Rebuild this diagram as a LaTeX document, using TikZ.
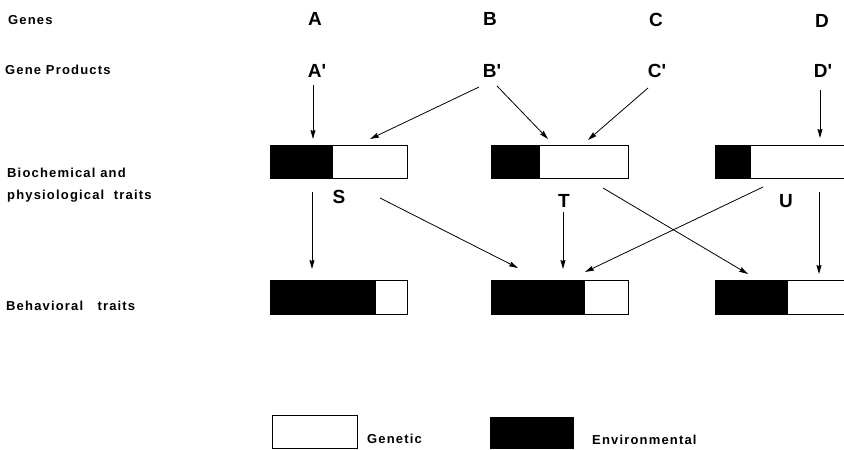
\documentclass[tikz,border=0pt]{standalone}
\usepackage{fontspec}
\setmainfont{Liberation Sans}
\usetikzlibrary{arrows.meta,calc}
\begin{document}
\begin{tikzpicture}[x=1pt,y=-1pt,
  lab/.style={anchor=base west,inner sep=0pt,font=\fontsize{13}{15}\selectfont\bfseries\addfontfeature{LetterSpace=9}},
  big/.style={anchor=base,inner sep=0pt,font=\fontsize{19}{22}\selectfont\bfseries},
  bar/.style={draw,line width=1.3pt,minimum width=137pt,inner sep=0pt,anchor=north west,fill=white},
  blk/.style={path picture={\fill[black] (path picture bounding box.south west) rectangle ([xshift=#1]path picture bounding box.north west);}},
  arr/.style={line width=0.8pt,-{Stealth[length=9pt,width=5pt,inset=1pt]}}]
\useasboundingbox (0,0) rectangle (844,450);

% row labels
\node[lab] (lgenes) at (8,24) {Genes};
\node[lab] (lprod) at (5,74) {Gene Products};
\node[lab] (lbio1) at (7,177) {Biochemical and};
\node[lab] (lbio2) at (7,199) {physiological\ \ traits};
\node[lab] (lbeh) at (6,310) {Behavioral\ \ \ traits};

% genes
\node[big] (A) at (315,25) {A};
\node[big] (B) at (490,25) {B};
\node[big] (C) at (656,26) {C};
\node[big] (D) at (822,27) {D};
\node[big] (Ap) at (317,77) {A\textquotesingle};
\node[big] (Bp) at (492,77) {B\textquotesingle};
\node[big] (Cp) at (657,77) {C\textquotesingle};
\node[big] (Dp) at (823,77) {D\textquotesingle};

% bars row 1
\node[bar,blk=62pt,minimum height=33pt] (s1) at (270,145) {};
\node[bar,blk=48pt,minimum height=33pt] (t1) at (491,145) {};
\node[bar,blk=35pt,minimum height=33pt] (u1) at (715,145) {};
% bars row 2
\node[bar,blk=105pt,minimum height=34pt] (s2) at (270,280) {};
\node[bar,blk=93pt,minimum height=34pt] (t2) at (491,280) {};
\node[bar,blk=72pt,minimum height=34pt] (u2) at (715,280) {};

\node[big] (S) at (339,203) {S};
\node[big] (T) at (564,207) {T};
\node[big] (U) at (786,207) {U};

% arrow end points
\coordinate (e1a) at (313,85);  \coordinate (e1b) at (313,139);
\coordinate (e2a) at (479,87);  \coordinate (e2b) at (370,139);
\coordinate (e3a) at (497,86);  \coordinate (e3b) at (548,139);
\coordinate (e4a) at (648,88);  \coordinate (e4b) at (588,140);
\coordinate (e5a) at (820,90);  \coordinate (e5b) at (820,138);
\coordinate (e6a) at (312,192); \coordinate (e6b) at (312,269);
\coordinate (e7a) at (380,198); \coordinate (e7b) at (518,268);
\coordinate (e8a) at (563,212); \coordinate (e8b) at (563,269);
\coordinate (e9a) at (603,188); \coordinate (e9b) at (748,274);
\coordinate (e10a) at (763,187); \coordinate (e10b) at (585,272);
\coordinate (e11a) at (819,192); \coordinate (e11b) at (819,274);

\draw[arr] (e1a) -- (e1b);
\draw[arr] (e2a) -- (e2b);
\draw[arr] (e3a) -- (e3b);
\draw[arr] (e4a) -- (e4b);
\draw[arr] (e5a) -- (e5b);
\draw[arr] (e6a) -- (e6b);
\draw[arr] (e7a) -- (e7b);
\draw[arr] (e8a) -- (e8b);
\draw[arr] (e9a) -- (e9b);
\draw[arr] (e10a) -- (e10b);
\draw[arr] (e11a) -- (e11b);

% legend
\node[bar,minimum width=85pt,minimum height=33pt] (kg) at (272,415) {};
\node[lab] (kgl) at (367,443) {Genetic};
\node[bar,fill=black,minimum width=83pt,minimum height=31pt] (ke) at (490,417) {};
\node[lab] (kel) at (592,444) {Environmental};
\end{tikzpicture}
\end{document}
